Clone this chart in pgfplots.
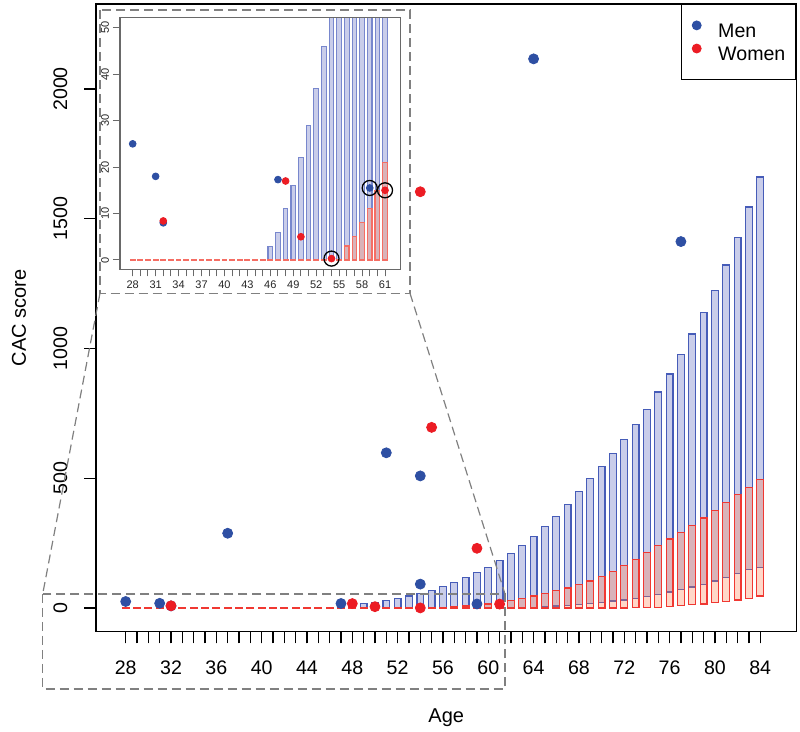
\documentclass[border=0pt]{standalone}
\usepackage{fontspec}
\setmainfont{Liberation Sans}
\usepackage{pgfplots}
\pgfplotsset{compat=1.18}
\usepackage{pgfplotstable}

\definecolor{menblue}{RGB}{46,79,163}
\definecolor{womenred}{RGB}{236,28,36}
\definecolor{barblue}{RGB}{70,92,184}
\definecolor{barbluefill}{RGB}{201,205,234}
\definecolor{barred}{RGB}{240,56,50}
\definecolor{barredfill}{RGB}{255,122,72}
\definecolor{insbarblue}{RGB}{120,135,205}
\definecolor{insbarred}{RGB}{245,110,100}
\definecolor{dashgray}{RGB}{128,128,128}
\definecolor{insgray}{RGB}{105,105,105}

\newcommand\mainfs{\fontsize{9.8}{11.8}\selectfont}
\newcommand\insfs{\fontsize{5.5}{6.6}\selectfont}

\pgfplotstableread{
age blo bhi rlo rhi
28 0 0 0 0
29 0 0 0 0
30 0 0 0 0
31 0 0 0 0
32 0 0 0 0
33 0 0 0 0
34 0 0 0 0
35 0 0 0 0
36 0 0 0 0
37 0 0 0 0
38 0 0 0 0
39 0 0 0 0
40 0 0 0 0
41 0 0 0 0
42 0 0 0 0
43 0 0 0 0
44 0 0 0 0
45 0 0 0 0
46 0 3 0 0
47 0 6 0 0
48 0 11 0 0
49 0 16 0 0
50 0 22 0 0
51 0 29 0 0
52 0 37 0 0
53 0 46 0 0
54 0 57 0 0
55 0 68 0 0
56 0 82 0 3
57 0 99 0 5
58 0 116 0 8
59 0 136 0 11
60 0 157 0 15
61 0 184 0 21
62 1 211 0 28
63 2 240 0 36
64 3 275 0 46
65 5 313 0 56
66 8 352 0 66
67 10 400 0 77
68 14 450 0 90
69 18 498 0 104
70 22 546 0 121
71 27 596 0 140
72 31 650 0 163
73 37 706 1 188
74 44 766 2 214
75 51 832 3 241
76 62 902 5 266
77 70 978 9 291
78 81 1056 12 318
79 92 1138 15 347
80 104 1222 20 376
81 117 1322 24 406
82 134 1428 31 438
83 148 1545 37 465
84 157 1661 46 496
}\bars

\pgfplotstableread{
age cac
28 25
31 18
32 8
37 288
47 17.3
51 598
54 509
54 92
59 15.5
64 2116
77 1412
}\men

\pgfplotstableread{
age cac
32 8.4
48 17
50 5
54 0.3
54 1604
55 696
59 230
61 15
}\women

\pgfplotstableread{
age cac
59 15.5
61 15
54 0.3
}\circled

\pgfplotsset{
  mainax/.style={at={(48pt,50.15pt)}, anchor=south west, scale only axis,
    width=350.25pt, height=313.85pt,
    xmin=25.38, xmax=87.2, ymin=-91.3, ymax=2327.5},
  insax/.style={at={(60pt,231.35pt)}, anchor=south west, scale only axis,
    width=140.35pt, height=125.8pt,
    xmin=26.34, xmax=63.05, ymin=-2, ymax=52.15},
  bluebars/.style={draw=barblue, fill=barbluefill, line width=0.6pt},
  redbars/.style={draw=barred, fill=barredfill, fill opacity=0.3, line width=0.6pt},
}

\begin{document}
\begin{tikzpicture}
\path[use as bounding box] (0,0) rectangle (400pt,366pt);

% main bars (floating bars: invisible base + visible range)
\begin{axis}[mainax, hide axis, ybar stacked, bar width=0.6]
\addplot[draw=none, fill=none] table[x=age, y=blo] {\bars};
\addplot[bluebars] table[x=age, y expr={\thisrow{bhi}-\thisrow{blo}}] {\bars};
\end{axis}
\begin{axis}[mainax, hide axis, ybar stacked, bar width=0.6]
\addplot[draw=none, fill=none] table[x=age, y=rlo] {\bars};
\addplot[redbars] table[x=age, y expr={max(\thisrow{rhi}-\thisrow{rlo},0.01)}] {\bars};
\end{axis}

% main axis
\begin{axis}[mainax,
  axis line style={line width=0.7pt},
  tick align=outside, xtick pos=bottom, ytick pos=left,
  xtick={28,32,...,84}, minor xtick={28,...,84},
  ytick={0,500,1000,1500,2000}, yticklabels={},
  major tick length=5.8pt, minor tick length=5.8pt,
  tick style={black, line width=0.7pt},
  /pgf/number format/assume math mode=true,
  /pgf/number format/1000 sep={},
  tick label style={font=\mainfs},
  xticklabel style={anchor=center}, xticklabel shift=12.35pt,
  xlabel={Age}, ylabel={CAC score},
  label style={font=\mainfs},
  every axis x label/.style={at={(axis description cs:0.5,-0.1375)}, anchor=center},
  every axis y label/.style={at={(axis description cs:-0.110,0.5)}, anchor=center, rotate=90},
  legend style={at={(1,1)}, anchor=north east, draw=black, line width=0.5pt,
    fill=white, font=\mainfs, inner xsep=5.3pt, inner ysep=8pt,
    row sep=1.5pt, column sep=8.3pt, nodes={inner sep=0pt}},
  legend cell align=left,
]
\addplot[only marks, mark=*, mark size=2.5pt, color=menblue,
  legend image code/.code={\fill[menblue] (0pt,3.5pt) circle (2.2pt);}]
  table[x=age, y=cac] {\men};
\addlegendentry{Men}
\addplot[only marks, mark=*, mark size=2.5pt, color=womenred,
  legend image code/.code={\fill[womenred] (0pt,3.5pt) circle (2.2pt);}]
  table[x=age, y=cac] {\women};
\addlegendentry{Women}
\end{axis}

% y tick labels and zoom annotations (pixel coordinates of the figure)
\begin{scope}[yshift=366pt, x=0.5pt, y=-0.5pt]
\node[rotate=90, font=\mainfs, inner sep=0pt] at (60.5,608) {0};
\node[rotate=90, font=\mainfs, inner sep=0pt] at (60.5,478.25) {500};
\node[rotate=90, font=\mainfs, inner sep=0pt] at (60.5,348.5) {1000};
\node[rotate=90, font=\mainfs, inner sep=0pt] at (60.5,218.75) {1500};
\node[rotate=90, font=\mainfs, inner sep=0pt] at (60.5,89) {2000};
\draw[dashgray, line width=0.6pt, dash pattern=on 4.5pt off 2.5pt]
  (42.7,594) rectangle (505,689);
\draw[dashgray, line width=0.6pt, dash pattern=on 4.5pt off 2.5pt]
  (100,293.3) -- (42.7,594);
\draw[dashgray, line width=0.6pt, dash pattern=on 4.5pt off 2.5pt]
  (410,293.3) -- (505,594);
\fill[white] (100,10) rectangle (410,293.3);
\draw[dashgray, line width=0.6pt, dash pattern=on 4.5pt off 2.5pt]
  (100,10) rectangle (410,293.3);
\end{scope}

% inset bars
\begin{axis}[insax, hide axis, ybar stacked, bar width=0.6, restrict x to domain=27:61.5]
\addplot[draw=none, fill=none] table[x=age, y=blo] {\bars};
\addplot[bluebars, draw=insbarblue, line width=0.55pt] table[x=age, y expr={\thisrow{bhi}-\thisrow{blo}}] {\bars};
\end{axis}
\begin{axis}[insax, hide axis, ybar stacked, bar width=0.6, restrict x to domain=27:61.5]
\addplot[draw=none, fill=none] table[x=age, y=rlo] {\bars};
\addplot[redbars, draw=insbarred, line width=0.6pt] table[x=age, y expr={max(\thisrow{rhi}-\thisrow{rlo},0.01)}] {\bars};
\end{axis}

% inset axis
\begin{axis}[insax,
  axis line style={draw=insgray, line width=0.6pt},
  tick align=outside, xtick pos=bottom, ytick pos=left,
  xtick={28,31,...,61}, minor xtick={28,...,61},
  ytick={0,10,...,50}, yticklabels={},
  major tick length=3.5pt, minor tick length=3.5pt,
  tick style={insgray, line width=0.5pt},
  /pgf/number format/assume math mode=true,
  tick label style={font=\insfs, text=black!85},
  xticklabel style={anchor=center}, xticklabel shift=4.35pt,
  restrict y to domain=-5:60,
]
\addplot[only marks, mark=*, mark size=1.7pt, color=menblue] table[x=age, y=cac] {\men};
\addplot[only marks, mark=*, mark size=1.7pt, color=womenred] table[x=age, y=cac] {\women};
\addplot[only marks, mark=o, mark size=3.75pt, mark options={line width=0.65pt}, color=black] table[x=age, y=cac] {\circled};
\end{axis}

% inset y tick labels
\begin{scope}[yshift=366pt, x=0.5pt, y=-0.5pt]
\node[rotate=90, font=\insfs, text=black!85, inner sep=0pt] at (105,260) {0};
\node[rotate=90, font=\insfs, text=black!85, inner sep=0pt] at (105,213.5) {10};
\node[rotate=90, font=\insfs, text=black!85, inner sep=0pt] at (105,167.1) {20};
\node[rotate=90, font=\insfs, text=black!85, inner sep=0pt] at (105,120.6) {30};
\node[rotate=90, font=\insfs, text=black!85, inner sep=0pt] at (105,74.2) {40};
\node[rotate=90, font=\insfs, text=black!85, inner sep=0pt] at (105,27.7) {50};
\end{scope}
\end{tikzpicture}
\end{document}
